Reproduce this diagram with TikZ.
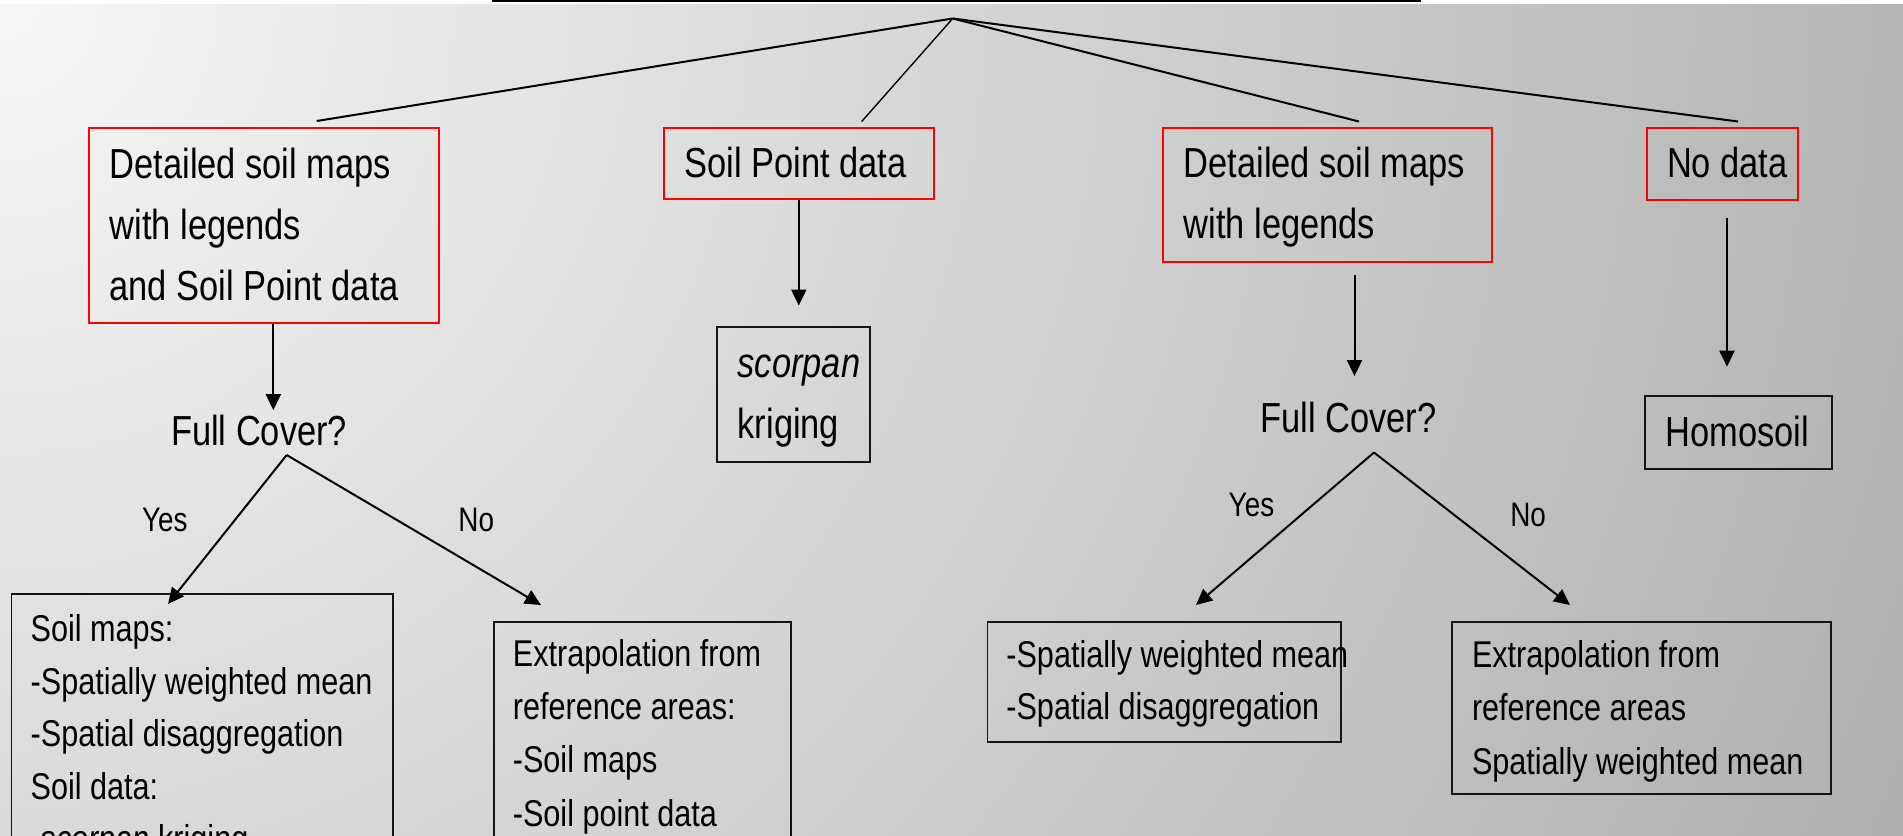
\documentclass[tikz,border=0pt]{standalone}
\usepackage{fontspec}
\setmainfont{Liberation Sans}[FakeStretch=0.82]
\usetikzlibrary{arrows.meta,calc}
\definecolor{bgA}{RGB}{246,246,246}
\definecolor{bgB}{RGB}{168,168,168}
\definecolor{boxred}{RGB}{255,0,0}
\definecolor{boxline}{RGB}{20,20,20}
% light in the top-left corner, darker towards the far corner
\pgfdeclareradialshading{slideglow}{\pgfpointorigin}{color(0bp)=(bgA); color(25bp)=(bgB); color(50bp)=(bgB)}
% stacked lines, baseline at the first line
\newcommand\stack[1]{\begin{tabular}[t]{@{}l@{}}#1\end{tabular}}

\begin{document}
\begin{tikzpicture}[x=0.5pt,y=-0.5pt,
  bigtxt/.style={font=\fontsize{21pt}{30.5pt}\selectfont, inner sep=0pt, anchor=base west},
  smalltxt/.style={font=\fontsize{18.65pt}{26.3pt}\selectfont, inner sep=0pt, anchor=base west},
  labeltxt/.style={font=\fontsize{17pt}{20pt}\selectfont, inner sep=0pt, anchor=base west},
  redbox/.style={draw=boxred, line width=1pt, inner sep=0pt, anchor=north west},
  blackbox/.style={draw=boxline, line width=0.9pt, inner sep=0pt, anchor=north west},
  link/.style={line width=1pt},
  arr/.style={line width=1pt, -{Triangle[width=7.5pt,length=8pt]}},
]
\useasboundingbox (0,0) rectangle (1903,836);
\clip (0,0) rectangle (1903,836);

% slide background
\shade[shading=slideglow] (0,0) circle (2300);
\fill[white] (0,0) rectangle (1903,4);
\fill[black] (492,0) rectangle (1421,2);

% data situations
\node[redbox, minimum width=174.7pt, minimum height=97.65pt] (b1) at (88.3,126.7) {};
\node[bigtxt] (t1) at (109.3,178.3) {\stack{Detailed soil maps\\with legends\\and Soil Point data}};
\node[redbox, minimum width=134.7pt, minimum height=35.8pt] (b2) at (663.3,126.7) {};
\node[bigtxt] (t2) at (684,177.7) {Soil Point data};
\node[redbox, minimum width=164.2pt, minimum height=66.85pt] (b3) at (1162.3,127) {};
\node[bigtxt] (t3) at (1183.3,177.7) {\stack{Detailed soil maps\\with legends}};
\node[redbox, minimum width=75.5pt, minimum height=36.15pt] (b4) at (1645.7,127) {};
\node[bigtxt] (t4) at (1666.7,177.7) {No data};

% tree from the top
\coordinate (root) at (952.7,18.5);
\draw[link] (root) -- ($(b1.north west)+(228.4,-5.7)$);
\draw[line width=0.7pt] (root) -- ($(b2.north west)+(198.4,-5.2)$);
\draw[link] (root) -- ($(b3.north west)+(196.7,-5.5)$);
\draw[link] (root) -- ($(b4.north west)+(92.3,-5.5)$);

% second level
\node[bigtxt] (fc1) at (170.7,445) {Full Cover?};
\node[blackbox, minimum width=76.5pt, minimum height=67.35pt] (sc) at (716,326) {};
\node[bigtxt] (tsc) at (737.3,377.3) {\stack{\textit{scorpan}\\kriging}};
\node[bigtxt] (fc2) at (1259.8,432.9) {Full Cover?};
\node[blackbox, minimum width=93.5pt, minimum height=36.5pt] (homo) at (1643.7,395) {};
\node[bigtxt] (thomo) at (1665,446.7) {Homosoil};

\draw[arr] ($(b1.south west)+(185,0)$) -- ($(b1.south west |- fc1.north)+(185,-4)$);
\draw[arr] ($(b2.south west)+(135.5,0)$) -- ($(b2.south west |- sc.north)+(135.5,-20.5)$);
\draw[arr] ($(b3.south west)+(192.2,12.3)$) -- ($(b3.south west |- fc2.north)+(192.2,-26)$);
\draw[arr] ($(b4.south west)+(81.3,16.7)$) -- ($(b4.south west |- homo.north)+(81.3,-28.3)$);

% answers
\node[labeltxt] (y1) at (141.7,531.7) {Yes};
\node[labeltxt] (n1) at (458,531.7) {No};
\node[labeltxt] (y2) at (1228.3,516) {Yes};
\node[labeltxt] (n2) at (1509.9,526.8) {No};

% methods
\node[blackbox, minimum width=190.75pt, minimum height=138.35pt] (bl) at (10.5,593.3) {};
\node[smalltxt] (tbl) at (30.3,641.5) {\stack{Soil maps:\\-Spatially weighted mean\\-Spatial disaggregation\\Soil data:\\-\textit{scorpan} kriging}};
\node[blackbox, minimum width=148.5pt, minimum height=124.65pt] (bm) at (492.7,620.7) {};
\node[smalltxt, font=\fontsize{18.65pt}{26.7pt}\selectfont] (tbm) at (512.5,666) {\stack{Extrapolation from\\reference areas:\\-Soil maps\\-Soil point data}};
\node[blackbox, minimum width=176.9pt, minimum height=60pt] (br1) at (986.5,620.7) {};
\node[smalltxt] (tbr1) at (1006,667.3) {\stack{-Spatially weighted mean\\-Spatial disaggregation}};
\node[blackbox, minimum width=189.6pt, minimum height=86.3pt] (br2) at (1451,620.7) {};
\node[smalltxt, font=\fontsize{18.65pt}{26.7pt}\selectfont] (tbr2) at (1471.6,667.3) {\stack{Extrapolation from\\reference areas\\Spatially weighted mean}};

\coordinate (fork1) at (286.7,455);
\coordinate (fork2) at (1374,452.5);
\draw[arr] (fork1) -- ($(bl.north west)+(157.5,10.7)$);
\draw[arr] (fork1) -- ($(bm.north west)+(48.3,-15.7)$);
\draw[arr] (fork2) -- ($(br1.north west)+(209.5,-15.7)$);
\draw[arr] (fork2) -- ($(br2.north west)+(119,-15.7)$);
\end{tikzpicture}
\end{document}
